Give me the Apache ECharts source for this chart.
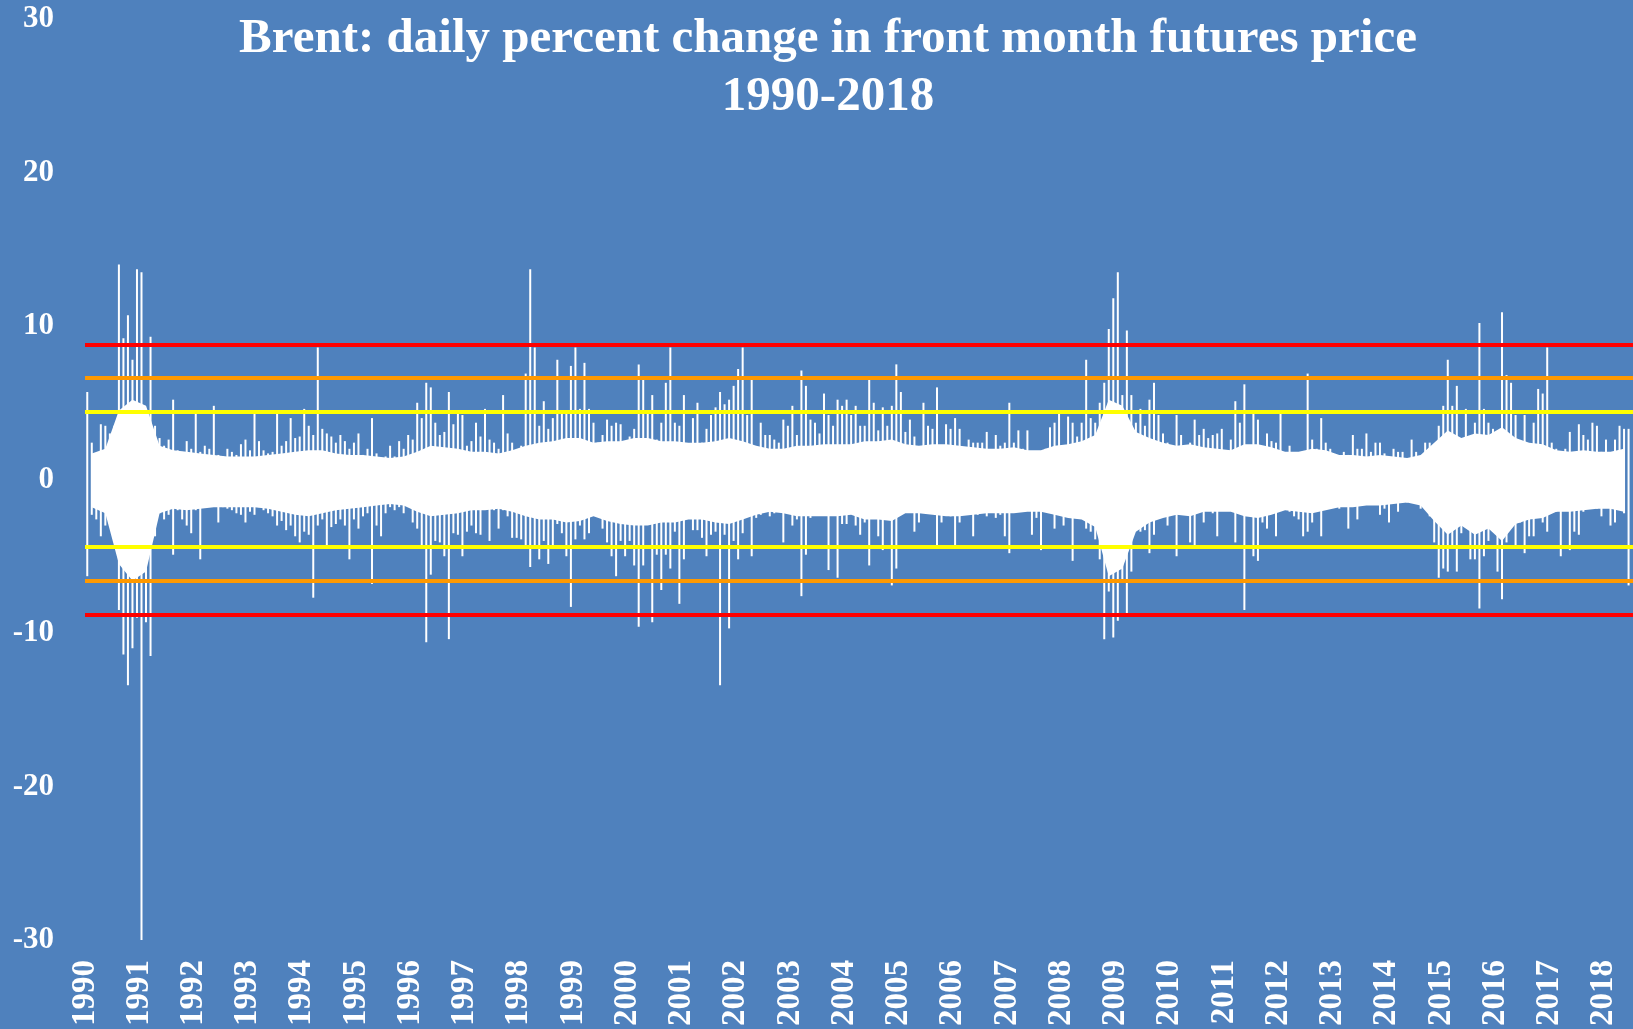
<!DOCTYPE html>
<html>
<head>
<meta charset="utf-8">
<title>Brent daily percent change</title>
<script src="https://cdn.jsdelivr.net/npm/echarts@6.0.0/dist/echarts.min.js"></script>
<style>
  html, body { margin: 0; padding: 0; background: #4f81bd; }
  #chart { width: 1633px; height: 1029px; }
</style>
</head>
<body>
<div id="chart"></div>
<script>
// Brent front month futures, daily % change, Jan 1990 - Jun 2018
// largest up move and largest down move
const firstYear = 1990;

const monthHigh = [
    5.7, 2.4, 1.7, 3.6, 3.5, 3.0, 3.5, 14.0, 9.2, 10.7, 7.8, 13.7,   // 1990
    13.5, 4.2, 9.3, 3.5, 2.7, 2.2, 2.6, 5.2, 1.9, 1.8, 2.5, 2.0,     // 1991
    4.3, 1.8, 2.2, 2.0, 4.8, 1.6, 1.5, 2.0, 1.8, 1.6, 2.3, 2.6,      // 1992
    1.9, 4.3, 2.5, 1.9, 1.7, 1.8, 4.3, 2.2, 2.5, 4.0, 2.7, 2.8,      // 1993
    4.6, 3.5, 2.9, 8.6, 3.3, 3.0, 2.8, 2.4, 2.9, 2.5, 2.0, 2.4,      // 1994
    3.0, 1.6, 2.0, 4.0, 1.7, 1.4, 1.5, 2.2, 1.5, 2.5, 2.0, 2.9,      // 1995
    2.6, 5.0, 4.0, 6.3, 6.0, 3.7, 2.9, 3.1, 5.7, 3.6, 4.3, 4.2,      // 1996
    2.2, 2.5, 3.7, 2.8, 4.6, 2.6, 2.4, 2.0, 5.5, 3.0, 2.4, 1.8,      // 1997
    2.2, 6.9, 13.7, 8.6, 3.5, 5.1, 3.3, 4.0, 7.8, 4.4, 4.4, 7.4,     // 1998
    8.6, 4.6, 7.6, 4.6, 3.7, 2.4, 2.9, 3.9, 3.5, 3.7, 3.6, 2.2,      // 1999
    2.8, 3.3, 7.5, 6.5, 4.5, 5.5, 2.6, 3.7, 6.3, 8.6, 3.7, 3.5,      // 2000
    5.5, 1.6, 4.0, 5.0, 2.4, 3.3, 4.2, 4.7, 5.7, 4.9, 5.2, 6.1,      // 2001
    7.2, 8.6, 4.2, 6.5, 2.0, 3.7, 2.9, 2.9, 2.6, 2.4, 3.9, 3.5,      // 2002
    4.8, 2.9, 7.1, 6.1, 3.9, 3.7, 3.0, 5.6, 4.2, 3.5, 5.2, 4.8,      // 2003
    5.2, 4.2, 4.8, 3.5, 3.5, 6.5, 5.0, 3.2, 4.7, 3.5, 4.8, 7.5,      // 2004
    5.7, 3.1, 3.9, 2.8, 1.4, 5.0, 3.5, 3.3, 6.0, 2.2, 3.6, 3.3,      // 2005
    4.0, 3.3, 2.0, 2.6, 2.4, 2.4, 2.4, 3.1, 1.5, 2.9, 2.2, 2.4,      // 2006
    5.0, 2.4, 3.2, 2.0, 3.2, 1.7, 1.8, 1.7, 2.0, 3.4, 3.7, 4.3,      // 2007
    2.0, 4.1, 3.7, 2.8, 3.7, 7.8, 4.0, 3.7, 5.0, 6.3, 9.8, 11.8,     // 2008
    13.5, 5.5, 9.7, 5.5, 3.7, 4.6, 3.5, 5.2, 6.3, 4.2, 3.0, 2.4,     // 2009
    2.0, 4.2, 2.9, 2.0, 2.4, 3.9, 2.9, 3.3, 2.7, 2.9, 3.0, 3.3,      // 2010
    1.6, 2.6, 5.1, 3.7, 6.2, 2.2, 4.3, 3.9, 1.9, 3.0, 2.5, 2.4,      // 2011
    4.3, 1.5, 2.2, 1.6, 1.3, 1.5, 6.9, 2.6, 2.0, 4.0, 2.4, 2.0,      // 2012
    1.3, 1.1, 1.8, 1.6, 2.9, 2.0, 2.0, 3.0, 1.8, 2.4, 2.4, 1.7,      // 2013
    1.2, 2.0, 1.8, 1.8, 1.1, 2.6, 1.8, 1.4, 2.4, 2.4, 2.0, 3.5,      // 2014
    4.8, 7.8, 4.8, 6.1, 2.0, 4.6, 1.4, 3.7, 10.2, 4.6, 3.7, 3.3,     // 2015
    2.9, 10.9, 6.8, 6.3, 4.2, 2.2, 4.2, 1.6, 3.7, 5.9, 5.6, 8.6,     // 2016
    2.4, 2.0, 1.6, 2.0, 3.1, 1.5, 3.6, 2.9, 2.6, 3.7, 3.5, 1.8,      // 2017
    2.6, 1.3, 2.6, 3.5, 3.3, 3.3                                     // 2018
];

const monthLow = [
    -6.3, -2.3, -2.6, -3.7, -3.0, -2.4, -2.3, -8.5, -11.4, -13.4, -11.0, -9.0,  // 1990
    -30.0, -9.3, -11.5, -3.7, -2.2, -2.6, -2.3, -4.9, -2.0, -2.6, -3.0, -3.5,   // 1991
    -2.0, -5.2, -1.8, -1.6, -1.6, -2.8, -1.8, -1.9, -2.0, -2.2, -2.3, -2.8,     // 1992
    -2.1, -2.3, -1.8, -2.0, -2.2, -2.4, -3.0, -2.7, -3.3, -3.0, -3.7, -4.1,     // 1993
    -3.4, -3.6, -7.7, -3.0, -2.6, -4.3, -3.1, -2.9, -2.6, -3.0, -5.2, -2.6,     // 1994
    -3.2, -2.4, -2.2, -6.8, -3.0, -3.7, -2.2, -1.8, -2.0, -1.8, -2.2, -1.6,     // 1995
    -2.8, -3.2, -4.3, -10.6, -6.2, -4.0, -4.1, -5.0, -10.4, -3.5, -3.6, -5.0,   // 1996
    -3.4, -3.0, -3.5, -3.6, -1.8, -4.0, -2.0, -3.2, -2.0, -2.4, -3.8, -3.8,     // 1997
    -3.9, -4.4, -5.7, -4.3, -5.2, -4.0, -5.5, -4.4, -2.9, -3.5, -5.0, -8.3,     // 1998
    -3.9, -3.0, -3.9, -3.5, -2.1, -1.9, -3.2, -4.1, -5.0, -6.3, -4.0, -5.0,     // 1999
    -4.0, -5.6, -9.6, -5.6, -2.5, -9.3, -4.9, -7.2, -4.9, -5.8, -3.4, -8.1,     // 2000
    -5.2, -2.2, -3.3, -3.3, -3.8, -5.0, -3.6, -3.4, -13.4, -3.6, -9.7, -4.0,    // 2001
    -5.2, -3.5, -1.0, -5.0, -2.5, -2.3, -1.4, -2.4, -2.2, -2.1, -4.1, -1.7,     // 2002
    -3.0, -2.6, -7.6, -4.9, -2.5, -2.2, -2.0, -1.5, -5.9, -1.1, -6.4, -2.9,     // 2003
    -2.9, -0.9, -3.0, -3.6, -2.8, -5.6, -2.0, -3.7, -4.6, -1.5, -6.9, -5.8,     // 2004
    -1.8, -1.2, -1.7, -3.4, -2.8, -1.7, -1.8, -1.0, -4.3, -2.8, -2.2, -2.4,     // 2005
    -4.3, -2.8, -2.2, -1.4, -3.7, -2.3, -1.3, -2.4, -2.0, -2.5, -2.3, -3.7,     // 2006
    -4.8, -2.1, -2.0, -1.9, -1.3, -3.6, -2.5, -4.6, -1.2, -1.8, -3.2, -2.2,     // 2007
    -3.0, -2.4, -5.3, -2.0, -2.4, -3.2, -3.4, -3.9, -5.2, -10.4, -7.3, -10.3,   // 2008
    -9.2, -6.7, -8.7, -6.0, -2.0, -3.4, -3.3, -4.8, -3.6, -2.2, -2.1, -3.0,     // 2009
    -1.4, -5.0, -1.9, -2.3, -4.1, -4.3, -1.5, -2.8, -1.1, -2.2, -3.7, -1.2,     // 2010
    -1.5, -1.7, -4.1, -2.0, -8.5, -2.3, -5.0, -5.3, -2.8, -3.2, -2.0, -3.7,     // 2011
    -1.1, -1.5, -2.1, -2.4, -2.6, -3.7, -3.4, -2.8, -1.5, -3.7, -1.9, -1.5,     // 2012
    -1.2, -1.9, -1.7, -3.2, -1.3, -2.6, -1.1, -1.2, -1.5, -1.5, -2.3, -1.9,     // 2013
    -2.8, -1.2, -2.1, -1.0, -1.5, -1.0, -1.3, -1.9, -1.5, -2.4, -4.1, -6.4,     // 2014
    -5.8, -6.0, -4.5, -6.0, -3.5, -2.6, -5.2, -5.2, -8.4, -5.0, -4.0, -3.2,     // 2015
    -6.0, -7.8, -4.1, -3.0, -4.4, -2.8, -4.8, -3.7, -3.7, -1.5, -2.8, -3.4,     // 2016
    -1.7, -2.1, -5.0, -1.5, -4.6, -3.4, -3.6, -2.1, -1.3, -1.5, -1.9, -2.4,     // 2017
    -1.2, -3.0, -2.8, -1.5, -2.2, -6.9                                          // 2018
];

// edges of the dense white band round zero, one value per quarter
const quarterBandHigh = [
    1.7, 2.0, 4.5, 5.2,   4.8, 2.2, 1.9, 1.8,   1.7, 1.6, 1.5, 1.5,   // 1990-92
    1.5, 1.6, 1.7, 1.8,   1.9, 1.9, 1.7, 1.6,   1.6, 1.5, 1.4, 1.5,   // 1993-95
    1.8, 2.2, 2.1, 2.0,   1.8, 1.8, 1.7, 1.9,   2.2, 2.4, 2.5, 2.7,   // 1996-98
    2.7, 2.4, 2.5, 2.5,   2.7, 2.7, 2.5, 2.5,   2.4, 2.4, 2.5, 2.7,   // 1999-01
    2.5, 2.2, 2.0, 2.0,   2.2, 2.2, 2.3, 2.3,   2.3, 2.5, 2.5, 2.6,   // 2002-04
    2.3, 2.2, 2.3, 2.3,   2.2, 2.1, 2.0, 2.0,   2.1, 1.9, 1.9, 2.2,   // 2005-07
    2.3, 2.5, 2.9, 5.2,   4.8, 3.1, 2.7, 2.4,   2.2, 2.3, 2.1, 2.0,   // 2008-10
    1.9, 2.3, 2.3, 2.1,   1.8, 1.8, 2.0, 1.9,   1.6, 1.6, 1.5, 1.6,   // 2011-13
    1.5, 1.4, 1.6, 2.4,   3.2, 2.7, 3.0, 2.9,   3.4, 2.7, 2.4, 2.3,   // 2014-16
    1.9, 1.8, 1.9, 1.8,   1.8, 2.0                                    // 2017-18
];
const quarterBandLow = [
    -1.8, -2.2, -5.5, -6.6,   -6.0, -2.2, -1.9, -2.0,   -1.9, -1.8, -1.8, -1.8,   // 1990-92
    -1.8, -1.9, -2.1, -2.3,   -2.4, -2.2, -2.0, -1.9,   -1.8, -1.7, -1.6, -1.7,   // 1993-95
    -2.1, -2.4, -2.3, -2.2,   -2.0, -2.0, -1.9, -2.1,   -2.4, -2.6, -2.6, -2.8,   // 1996-98
    -2.7, -2.4, -2.7, -2.9,   -3.0, -3.0, -2.8, -2.8,   -2.6, -2.6, -2.8, -2.9,   // 1999-01
    -2.6, -2.3, -2.1, -2.2,   -2.4, -2.4, -2.4, -2.4,   -2.3, -2.6, -2.6, -2.7,   // 2002-04
    -2.2, -2.2, -2.3, -2.4,   -2.4, -2.3, -2.2, -2.2,   -2.2, -2.1, -2.1, -2.3,   // 2005-07
    -2.5, -2.6, -3.1, -6.3,   -5.8, -3.4, -2.8, -2.5,   -2.3, -2.4, -2.1, -2.1,   // 2008-10
    -2.1, -2.4, -2.5, -2.3,   -2.0, -2.1, -2.2, -2.0,   -1.8, -1.8, -1.7, -1.7,   // 2011-13
    -1.6, -1.5, -1.7, -2.7,   -3.6, -3.0, -3.6, -3.2,   -4.0, -2.9, -2.6, -2.5,   // 2014-16
    -2.1, -2.1, -2.0, -1.9,   -1.9, -2.1                                          // 2017-18
];

// +/- 2, 3 and 4 standard deviations
const sigmaLevels = [4.4, 6.6, 8.8];
const sigmaColors = ['#ffff00', '#ff9900', '#ff0000'];

const fontFamily = '"Liberation Serif", "DejaVu Serif", serif';

const spikeData = monthHigh.map((hi, i) => [firstYear + (i + 0.5) / 12, hi, monthLow[i]]);
const bandData = quarterBandHigh.map((hi, i) => [firstYear + (i + 0.5) / 4, hi, quarterBandLow[i]]);

const markLineData = [];
sigmaLevels.forEach((v, i) => {
    markLineData.push({ yAxis: v, lineStyle: { color: sigmaColors[i] } });
    markLineData.push({ yAxis: -v, lineStyle: { color: sigmaColors[i] } });
});

// whole band as one polygon: along the top edge, back along the bottom edge
function renderBand(params, api) {
    if (params.dataIndexInside !== 0) return;
    const n = params.dataInsideLength;
    const pts = [];
    for (let i = 0; i < n; i++) {
        pts.push(api.coord([api.value(0, i), api.value(1, i)]));
    }
    for (let i = n - 1; i >= 0; i--) {
        pts.push(api.coord([api.value(0, i), api.value(2, i)]));
    }
    return {
        type: 'polygon',
        shape: { points: pts },
        style: { fill: '#fff' }
    };
}

function renderSpike(params, api) {
    const top = api.coord([api.value(0), api.value(1)]);
    const bot = api.coord([api.value(0), api.value(2)]);
    return {
        type: 'rect',
        shape: { x: top[0] - 1, y: top[1], width: 2, height: bot[1] - top[1] },
        style: { fill: '#fff' }
    };
}

const chart = echarts.init(document.getElementById('chart'));

const option = {
    backgroundColor: '#4f81bd',
    animation: false,
    title: {
        text: 'Brent: daily percent change in front month futures price\n1990-2018',
        left: 828,
        top: 10,
        textAlign: 'center',
        padding: 0,
        textStyle: {
            color: '#fff',
            fontFamily: fontFamily,
            fontWeight: 'bold',
            fontSize: 49,
            lineHeight: 58
        }
    },
    grid: {
        left: 85,
        right: 0,
        top: 19,
        bottom: 88
    },
    xAxis: {
        type: 'value',
        min: 1990,
        max: 2018.54,
        interval: 1,
        axisLine: { show: false },
        axisTick: { show: false },
        splitLine: { show: false },
        axisLabel: {
            rotate: 90,
            margin: 20,
            showMaxLabel: false,
            color: '#fff',
            fontFamily: fontFamily,
            fontWeight: 'bold',
            fontSize: 33,
            formatter: v => String(v)
        }
    },
    yAxis: {
        type: 'value',
        min: -30,
        max: 30,
        interval: 10,
        axisLine: { show: false },
        axisTick: { show: false },
        splitLine: { show: false },
        axisLabel: {
            margin: 31,
            color: '#fff',
            fontFamily: fontFamily,
            fontWeight: 'bold',
            fontSize: 31
        }
    },
    series: [
        {
            type: 'custom',
            name: 'band',
            data: bandData,
            encode: { x: 0, y: [1, 2] },
            renderItem: renderBand,
            z: 1
        },
        {
            type: 'custom',
            name: 'daily change',
            data: spikeData,
            encode: { x: 0, y: [1, 2] },
            renderItem: renderSpike,
            z: 2
        },
        {
            type: 'line',
            data: [],
            z: 5,
            markLine: {
                silent: true,
                symbol: 'none',
                label: { show: false },
                lineStyle: { type: 'solid', width: 4 },
                data: markLineData
            }
        }
    ]
};

chart.setOption(option);
</script>
</body>
</html>
